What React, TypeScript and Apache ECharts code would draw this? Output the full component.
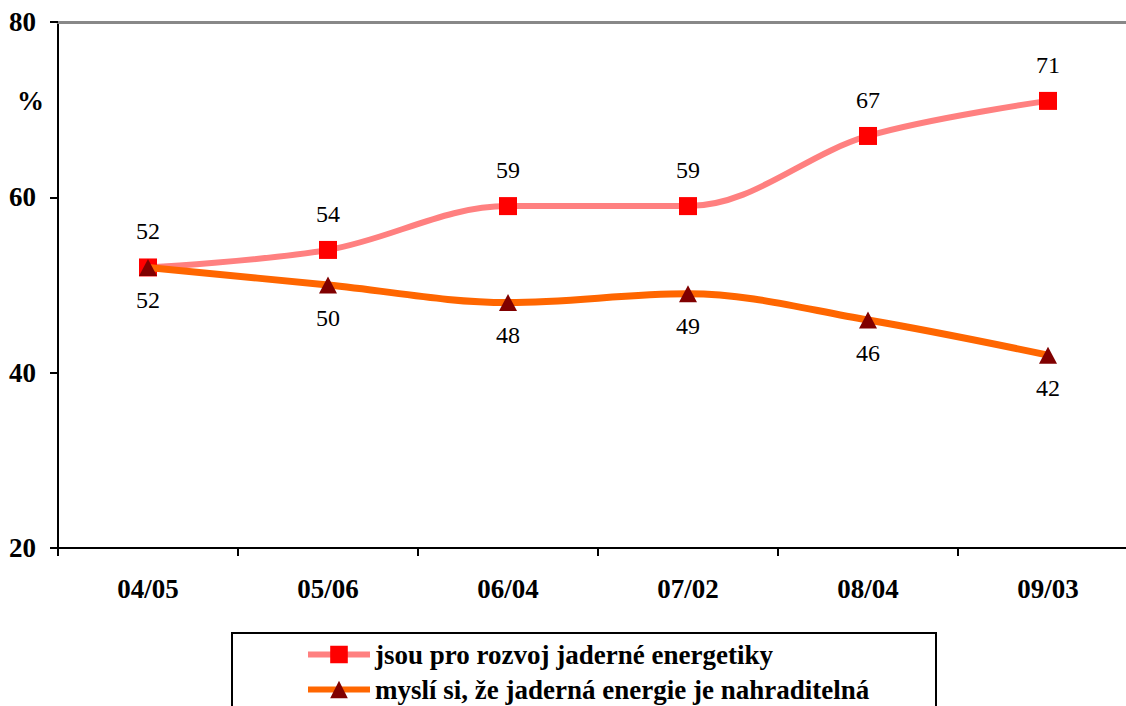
import React, { useEffect, useRef } from "react";
import * as echarts from "echarts";

const categories = ["04/05", "05/06", "06/04", "07/02", "08/04", "09/03"];
const proRozvoj = [52, 54, 59, 59, 67, 71];
const nahraditelna = [52, 50, 48, 49, 46, 42];
const seriesNames = [
  "jsou pro rozvoj jaderné energetiky",
  "myslí si, že jaderná energie je nahraditelná",
];

const FONT = "'Liberation Serif', 'Times New Roman', serif";

export default function App() {
  const ref = useRef<HTMLDivElement>(null);
  useEffect(() => {
    if (!ref.current) return;
    const chart = echarts.init(ref.current, null, { renderer: "svg" });
    chart.setOption({
      animation: false,
      backgroundColor: "#ffffff",
      textStyle: { fontFamily: FONT },
      grid: {
        left: 58,
        top: 22,
        width: 1080,
        bottom: 158,
        containLabel: false,
        outerBoundsMode: "none",
      },
      xAxis: [
        {
          type: "category",
          data: categories,
          boundaryGap: true,
          axisLine: { lineStyle: { color: "#000", width: 2 } },
          axisTick: { show: true, length: 8, lineStyle: { color: "#000", width: 2 } },
          axisLabel: {
            margin: 27,
            color: "#000",
            fontFamily: FONT,
            fontWeight: "bold",
            fontSize: 27,
          },
        },
        {
          type: "category",
          data: categories,
          position: "top",
          axisLine: { show: true, lineStyle: { color: "#888", width: 3 } },
          axisTick: { show: false },
          axisLabel: { show: false },
        },
      ],
      yAxis: {
        type: "value",
        min: 20,
        max: 80,
        interval: 20,
        axisLine: { show: true, lineStyle: { color: "#000", width: 2 } },
        axisTick: { show: true, length: 8, lineStyle: { color: "#000", width: 2 } },
        splitLine: { show: false },
        axisLabel: {
          margin: 22,
          color: "#000",
          fontFamily: FONT,
          fontWeight: "bold",
          fontSize: 27,
        },
      },
      legend: {
        orient: "vertical",
        left: 305,
        top: 641,
        height: 70,
        padding: 0,
        itemWidth: 62,
        itemHeight: 22,
        itemGap: 8,
        lineStyle: { width: 6 },
        textStyle: { color: "#000", fontFamily: FONT, fontWeight: "bold", fontSize: 27 },
        data: seriesNames,
      },
      graphic: [
        {
          type: "rect",
          shape: { x: 232, y: 633, width: 704, height: 120 },
          style: { fill: "none", stroke: "#000", lineWidth: 2 },
          z: 0,
        },
        {
          type: "text",
          x: 17,
          y: 87,
          style: { text: "%", fill: "#000", font: `bold 27px ${FONT}` },
        },
      ],
      series: [
        {
          name: seriesNames[0],
          type: "line",
          data: proRozvoj,
          smooth: 0.35,
          symbol: "rect",
          symbolSize: 18,
          itemStyle: { color: "#FF0000" },
          lineStyle: { color: "#FF8080", width: 6 },
          label: {
            show: true,
            position: "top",
            distance: 15,
            color: "#000",
            fontFamily: FONT,
            fontSize: 24,
          },
          z: 2,
        },
        {
          name: seriesNames[1],
          type: "line",
          data: nahraditelna,
          smooth: 0.35,
          symbol: "triangle",
          symbolSize: [18, 17],
          itemStyle: { color: "#800000" },
          lineStyle: { color: "#FF6600", width: 7 },
          label: {
            show: true,
            position: "bottom",
            distance: 12,
            color: "#000",
            fontFamily: FONT,
            fontSize: 24,
          },
          z: 3,
        },
      ],
    });
    return () => chart.dispose();
  }, []);
  return (
    <div
      ref={ref}
      style={{ position: "fixed", left: 0, top: 0, width: 1126, height: 706 }}
    />
  );
}
